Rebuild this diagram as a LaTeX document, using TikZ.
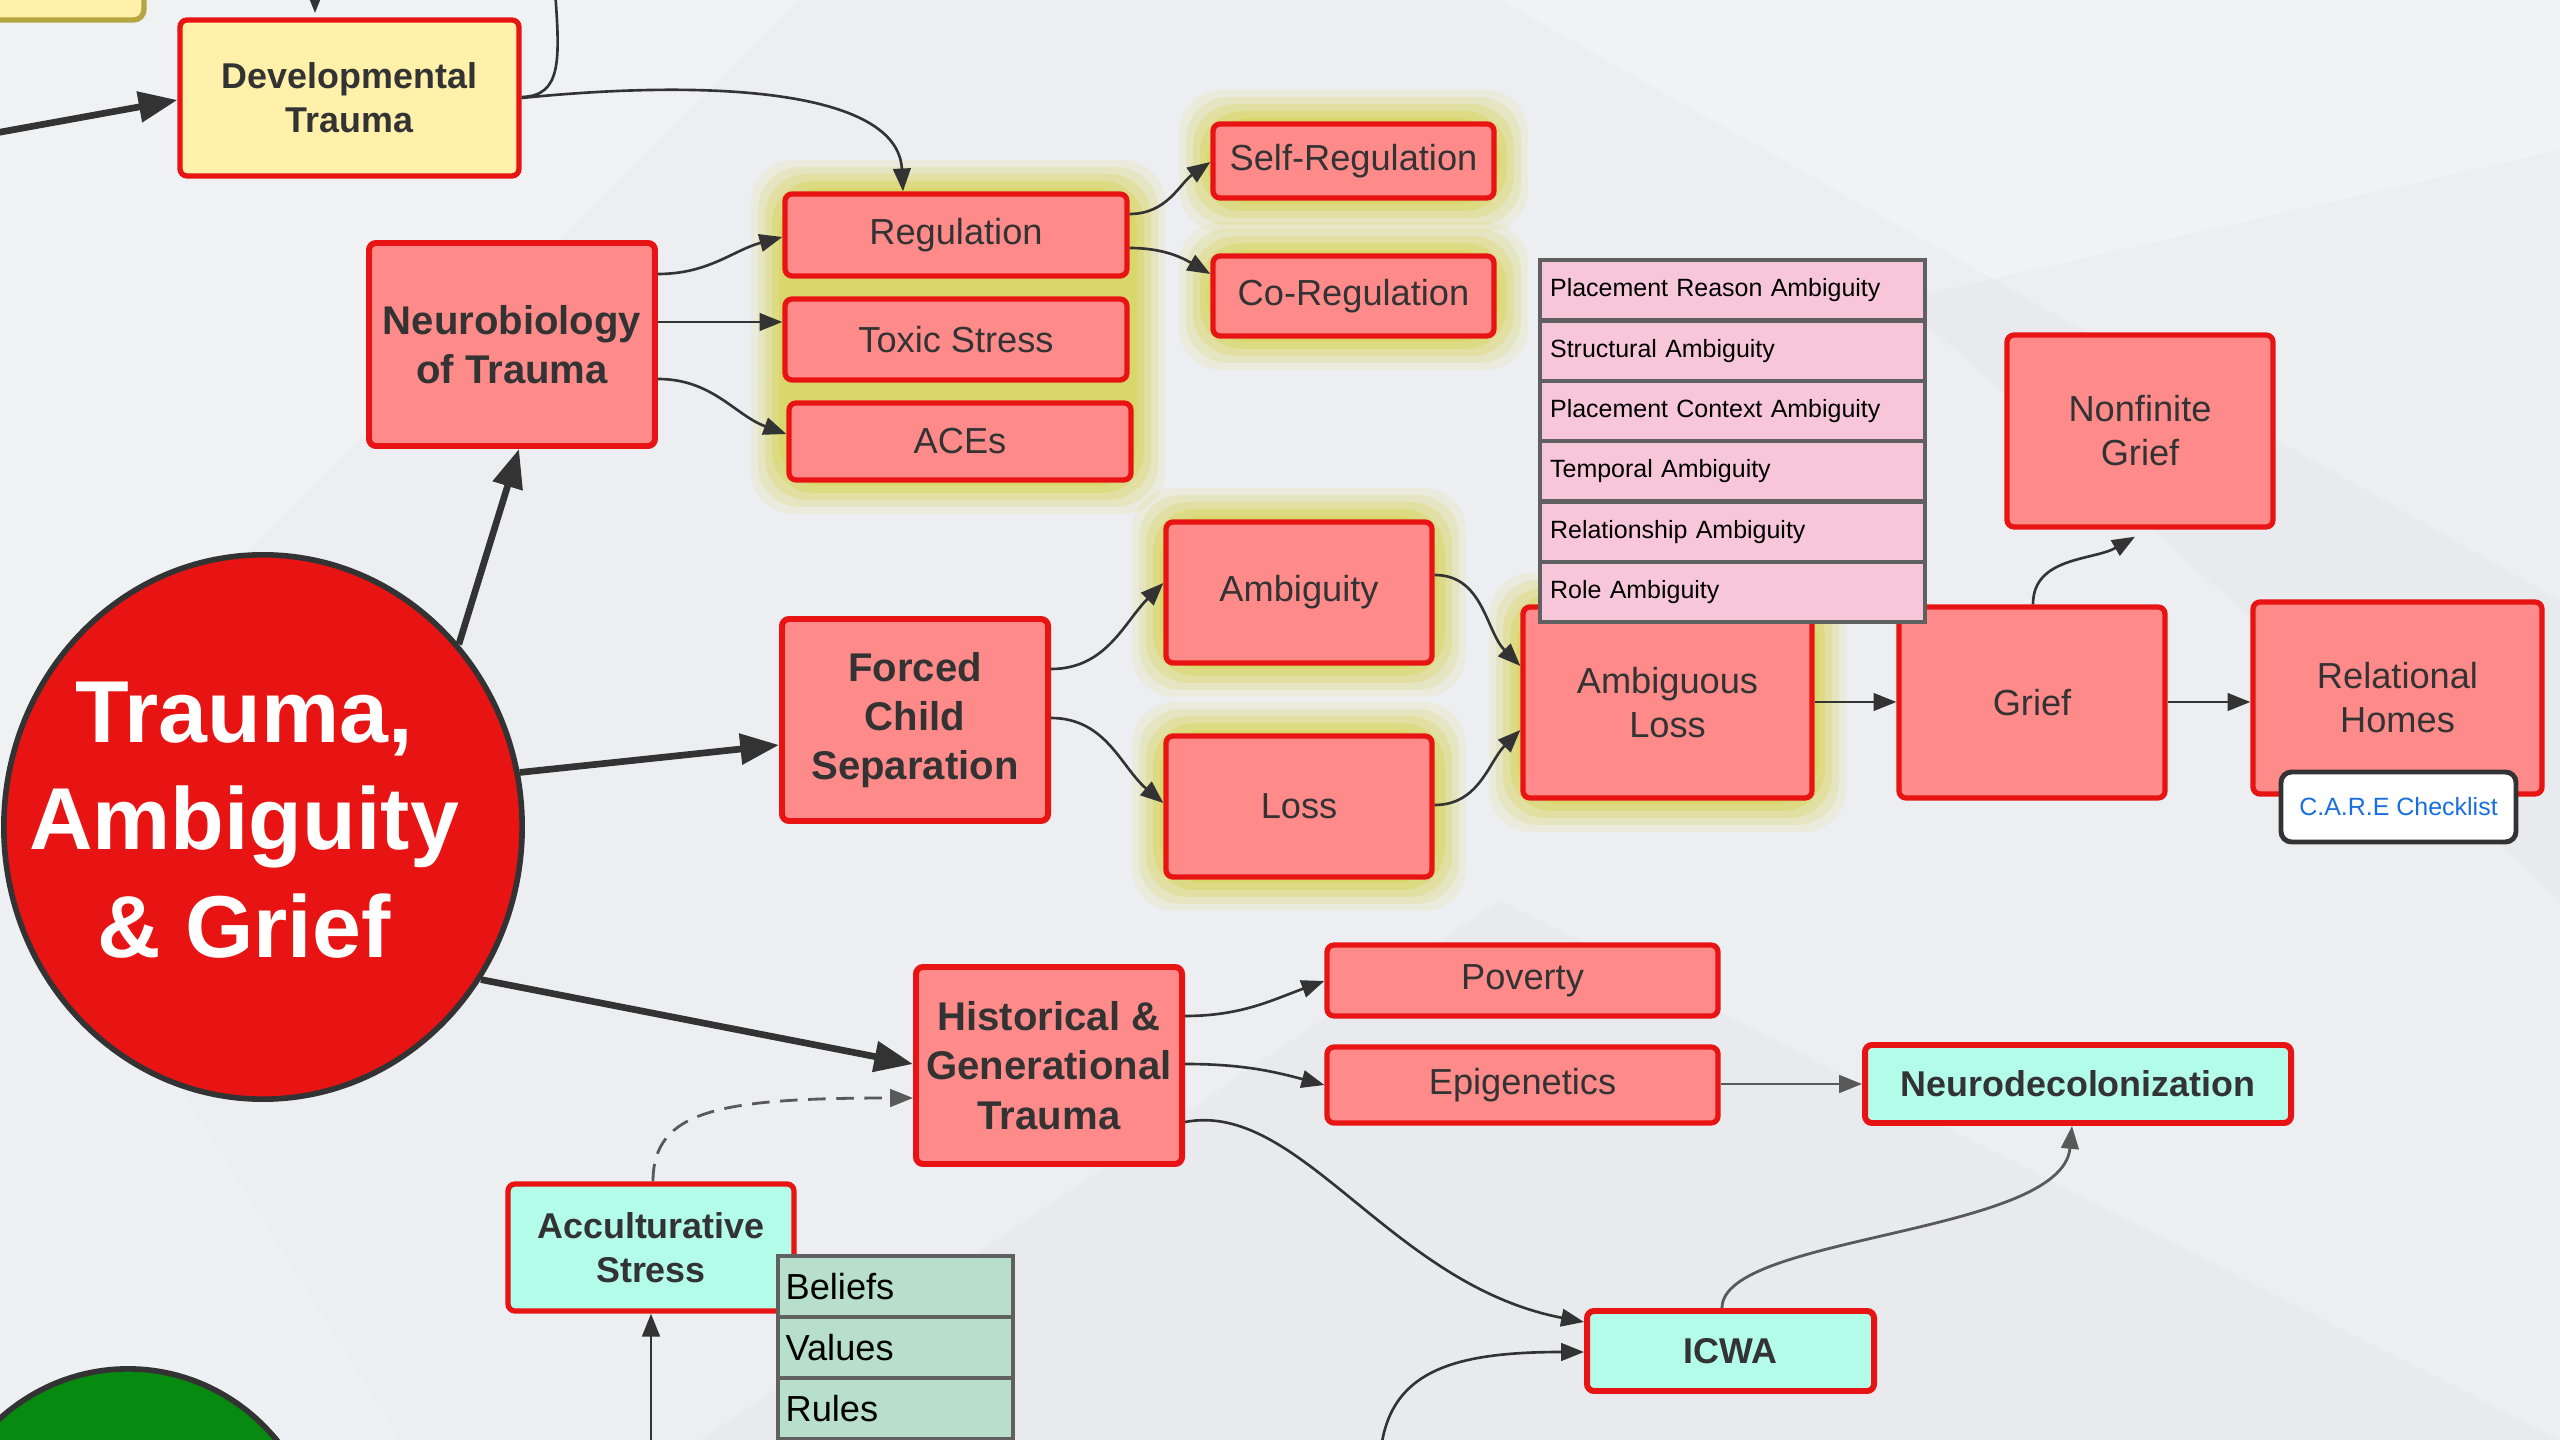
\documentclass[tikz,border=0pt]{standalone}
\usepackage{fontspec}
\setmainfont{Liberation Sans}
\usetikzlibrary{arrows.meta,shapes.geometric}
\definecolor{bgc}{HTML}{EDEEF1}
\definecolor{boxred}{HTML}{E81414}
\definecolor{boxfill}{HTML}{FF8A8A}
\definecolor{yelf}{HTML}{FFF0AA}
\definecolor{cyanf}{HTML}{B4FCEA}
\definecolor{pinkf}{HTML}{F7C6D9}
\definecolor{greenf}{HTML}{B8DFCB}
\definecolor{tgray}{HTML}{606060}
\definecolor{txt}{HTML}{333333}
\definecolor{glowc}{HTML}{D6D452}
\definecolor{linec}{HTML}{333333}
\definecolor{grayline}{HTML}{595959}
\definecolor{carec}{HTML}{1A6FE0}
\definecolor{olive}{HTML}{B5A642}
\definecolor{dgreen}{HTML}{078A10}
\newcommand\myglow[4]{%
  \foreach \d/\o in {34/0.12,27/0.2,20/0.28,13/0.38,6/0.48}{%
    \fill[glowc,opacity=\o,rounded corners=12pt] ({#1-\d},{#2-\d}) rectangle ({#3+\d},{#4+\d});}}
\begin{document}
\begin{tikzpicture}[x=0.01cm,y=-0.01cm,
  box/.style={draw=boxred,line width=1.5pt,rounded corners=2pt,text=txt,align=center,inner sep=0pt},
  redbox/.style={box,fill=boxfill},
  cyanbox/.style={box,fill=cyanf},
  yelbox/.style={box,fill=yelf},
  sz/.style 2 args={minimum width=#1*0.01cm,minimum height=#2*0.01cm},
  fn/.style={font=\fontsize{10.3}{12.5}\selectfont},
  fb/.style={font=\bfseries\fontsize{10.2}{12.5}\selectfont},
  fbb/.style={font=\bfseries\fontsize{11.4}{14}\selectfont},
  pinkrow/.style={draw=tgray,fill=pinkf,line width=1.2pt,minimum width=3.85cm,minimum height=0.603cm,
     text width=3.65cm,align=left,inner xsep=0.1cm,inner ysep=0pt,anchor=north west,text=black,
     font=\fontsize{7.1}{8.5}\selectfont},
  greenrow/.style={draw=tgray,fill=greenf,line width=1.2pt,minimum width=2.35cm,minimum height=0.61cm,
     text width=2.2cm,align=left,inner xsep=0.075cm,inner ysep=0pt,anchor=north west,text=black,
     font=\fontsize{10.3}{12.5}\selectfont},
  thin/.style={draw=linec,line width=0.75pt,-{Triangle[length=6.5pt,width=5pt]}},
  grayarr/.style={draw=grayline,line width=0.8pt,-{Triangle[length=6.5pt,width=5pt]}},
  thick/.style={draw=linec,line width=1.9pt,-{Triangle[length=11pt,width=8.5pt]}}
]
\useasboundingbox (0,0) rectangle (2560,1440);
\clip (0,0) rectangle (2560,1440);
% background
\fill[bgc] (0,0) rectangle (2560,1440);
\fill[white,opacity=0.25] (1500,0) -- (2560,0) -- (2560,600) -- cycle;
\fill[white,opacity=0.2] (0,0) -- (800,0) -- (0,800) -- cycle;
\fill[white,opacity=0.15] (0,800) -- (400,1440) -- (0,1440) -- cycle;
\fill[black,opacity=0.015] (700,1440) -- (1500,900) -- (2560,1440) -- cycle;
\fill[black,opacity=0.015] (1900,300) -- (2560,150) -- (2560,900) -- cycle;

% glows
\myglow{785}{194}{1131}{480}
\myglow{1213}{124}{1494}{198}
\myglow{1213}{256}{1494}{336}
\myglow{1166}{522}{1432}{663}
\myglow{1166}{736}{1432}{877}
\myglow{1523}{607}{1812}{798}

% top-left partial box
\draw[olive,fill=yelf,line width=1.5pt,rounded corners=3pt] (-20,-40) rectangle (144,20);

% main circle
\node[ellipse,draw=txt,line width=1.6pt,fill=boxred,minimum width=5.18cm,minimum height=5.44cm,inner sep=0pt] (circ) at (263,827) {};
\node[text=white,align=center,font=\bfseries\fontsize{25}{30.5}\selectfont] (title) at (244,820) {Trauma,\\Ambiguity\\\& Grief};
% green circle
\node[ellipse,draw=txt,line width=1.6pt,fill=dgreen,minimum width=3.9cm,minimum height=4.04cm,inner sep=0pt] (gc) at (128,1571) {};

% nodes
\node[yelbox,fb,sz={339}{156}] (dt) at (349.5,98) {Developmental\\Trauma};
\node[redbox,fbb,sz={286}{203},line width=1.7pt] (nb) at (512,344.5) {Neurobiology\\of Trauma};
\node[redbox,fn,sz={342}{82}] (reg) at (956,235) {Regulation};
\node[redbox,fn,sz={342}{81}] (tox) at (956,339.5) {Toxic Stress};
\node[redbox,fn,sz={342}{77}] (aces) at (960,441.5) {ACEs};
\node[redbox,fn,sz={281}{74}] (sr) at (1353.5,161) {Self-Regulation};
\node[redbox,fn,sz={281}{80}] (cr) at (1353.5,296) {Co-Regulation};
\node[redbox,fbb,sz={266}{202},line width=1.7pt] (fcs) at (915,720) {Forced\\Child\\Separation};
\node[redbox,fn,sz={266}{141}] (amb) at (1299,592.5) {Ambiguity};
\node[redbox,fn,sz={266}{141}] (loss) at (1299,806.5) {Loss};
\node[redbox,fn,sz={289}{191}] (al) at (1667.5,702.5) {Ambiguous\\Loss};
\node[redbox,fn,sz={266}{191}] (grief) at (2032,702.5) {Grief};
\node[redbox,fn,sz={266}{192}] (ng) at (2140,431) {Nonfinite\\Grief};
\node[redbox,fn,sz={289}{192}] (rh) at (2397.5,698) {Relational\\Homes};
\node[draw=txt,fill=white,line width=1.4pt,rounded corners=3pt,sz={235}{70},text=carec,
      font=\fontsize{7.1}{8.5}\selectfont] (care) at (2398.5,807) {C.A.R.E Checklist};
\node[redbox,fbb,sz={266}{197},line width=1.7pt] (hgt) at (1049,1065.5) {Historical \&\\Generational\\Trauma};
\node[redbox,fn,sz={391}{71}] (pov) at (1522.5,980.5) {Poverty};
\node[redbox,fn,sz={391}{76}] (epi) at (1522.5,1085) {Epigenetics};
\node[cyanbox,fb,sz={426}{78},line width=1.7pt] (nd) at (2078,1084) {Neurodecolonization};
\node[cyanbox,fb,sz={287}{80},line width=1.7pt] (icwa) at (1730.5,1351) {ICWA};
\node[cyanbox,fb,sz={286}{127}] (acc) at (651,1247.5) {Acculturative\\Stress};

% pink table
\node[pinkrow] (p0) at (1538,258) {Placement Reason Ambiguity};
\node[pinkrow] (p1) at (1538,318.3) {Structural Ambiguity};
\node[pinkrow] (p2) at (1538,378.6) {Placement Context Ambiguity};
\node[pinkrow] (p3) at (1538,439) {Temporal Ambiguity};
\node[pinkrow] (p4) at (1538,499.3) {Relationship Ambiguity};
\node[pinkrow] (p5) at (1538,559.6) {Role Ambiguity};
% green table
\node[greenrow] (g0) at (776,1254) {Beliefs};
\node[greenrow] (g1) at (776,1315) {Values};
\node[greenrow] (g2) at (776,1376) {Rules};

% free-end coordinates
\coordinate (lin) at (-10,134);
\coordinate (ttop) at (315,-30);
\coordinate (ttip) at (315,13);
\coordinate (tline) at (555,-10);
\coordinate (botc) at (1380,1460);
\coordinate (bota) at (651,1460);

% connectors
\draw[thick] (lin) -- (dt.west |- 0,100);
\draw[thin] (ttop) -- (ttip);
\draw[draw=linec,line width=0.75pt] (tline) .. controls (560,60) and (562,96) .. (dt.east |- 0,97);
\draw[thin] (dt.east |- 0,98) .. controls (720,78) and (898,92) .. (reg.north -| 903,0);
\draw[thin] (nb.east |- 0,274) to[out=0,in=195] (reg.west |- 0,237);
\draw[thin] (nb.east |- 0,322) -- (tox.west |- 0,322);
\draw[thin] (nb.east |- 0,379) to[out=0,in=160] (aces.west |- 0,434);
\draw[thin] (reg.east |- 0,214) to[out=0,in=215] (sr.west |- 0,162);
\draw[thin] (reg.east |- 0,248) to[out=0,in=150] (cr.west |- 0,274);
\draw[thin] (fcs.east |- 0,669) to[out=0,in=225] (amb.west |- 0,583);
\draw[thin] (fcs.east |- 0,718) to[out=0,in=140] (loss.west |- 0,803);
\draw[thin] (amb.east |- 0,575) to[out=0,in=135] (al.west |- 0,666);
\draw[thin] (loss.east |- 0,805) to[out=0,in=225] (al.west |- 0,730);
\draw[thin] (al.east |- 0,702) -- (grief.west |- 0,702);
\draw[thin] (grief.north -| 2033,0) to[out=90,in=210] ([yshift=-2pt]ng.south -| 2135,0);
\draw[thin] (grief.east |- 0,702) -- (rh.west |- 0,702);
\draw[thick] (circ.43) -- (nb.south -| 519,0);
\draw[thick] (circ.12) -- (fcs.west |- 0,745);
\draw[thick] (circ.-35) -- (hgt.west |- 0,1064);
\draw[thin] (hgt.east |- 0,1016) to[out=0,in=200] (pov.west |- 0,981);
\draw[thin] (hgt.east |- 0,1064) to[out=0,in=165] (epi.west |- 0,1085);
\draw[thin] (hgt.east |- 0,1122) .. controls (1300,1100) and (1390,1285) .. (icwa.west |- 0,1322);
\draw[grayarr] (epi.east |- 0,1084) -- (nd.west |- 0,1084);
\draw[grayarr] (icwa.north -| 1722,0) .. controls (1722,1235) and (2062,1235) .. (nd.south -| 2072,0);
\draw[thin] (botc) .. controls (1385,1372) and (1450,1352) .. (icwa.west |- 0,1352);
\draw[grayarr,dashed,dash pattern=on 5pt off 3pt] (acc.north -| 653,0) .. controls (653,1110) and (720,1098) .. (hgt.west |- 0,1098);
\draw[thin] (bota) -- (acc.south);
\end{tikzpicture}
\end{document}
